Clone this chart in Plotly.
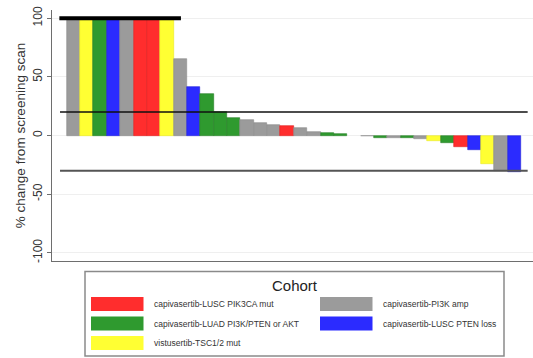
import plotly.graph_objects as go

# ---- data ----
cohort_names = [
    "capivasertib-LUSC PIK3CA mut",
    "capivasertib-PI3K amp",
    "capivasertib-LUAD PI3K/PTEN or AKT",
    "capivasertib-LUSC PTEN loss",
    "vistusertib-TSC1/2 mut",
]
cohort_colors = ["#ff2d2d", "#9b9b9b", "#2f9a2f", "#2b2bff", "#ffff33"]
cohort_edges = ["#e01e1e", "#8c8c8c", "#267f26", "#2020d8", "#e8e820"]

# cohort index of each patient (bar), in plotted order
patient_cohort = [1, 4, 2, 3, 1, 0, 0, 4, 1, 3, 2, 2, 2, 1, 1, 1, 0, 1, 1, 2, 2, 1,
                  1, 2, 1, 2, 1, 4, 2, 0, 3, 4, 1, 3]
pct_change = [100, 100, 100, 100, 100, 100, 100, 100, 65, 41.5, 35.7, 20.3, 14.9,
              13.6, 10.9, 9.0, 8.1, 6.7, 3.0, 1.9, 1.0, 0.0,
              -0.7, -1.8, -1.8, -1.8, -2.7, -4.4, -6.1, -10.0, -12.1, -24.3, -30.0, -31.1]
patients = list(range(1, len(pct_change) + 1))

ref_upper = 20
ref_lower = -30
cap_value = 100
n_capped = sum(1 for v in pct_change if v >= cap_value)

y_ticks = [-100, -50, 0, 50, 100]

FONT = "Liberation Sans, Arial, sans-serif"
W, H = 533, 358
L, R, T, B = 52, 0, 10, 97

fig = go.Figure()
fig.add_trace(go.Bar(
    x=patients,
    y=pct_change,
    marker=dict(color=[cohort_colors[c] for c in patient_cohort],
                line=dict(color=[cohort_edges[c] for c in patient_cohort],
                          width=[0.6 if v != 0 else 0 for v in pct_change])),
    width=1.0,
    showlegend=False,
    hoverinfo="x+y",
))

# reference lines
fig.add_shape(type="line", xref="x", yref="y", x0=0, x1=len(patients) + 1,
              y0=ref_upper, y1=ref_upper, line=dict(color="#111111", width=1.5))
fig.add_shape(type="line", xref="x", yref="y", x0=0, x1=len(patients) + 1,
              y0=ref_lower, y1=ref_lower, line=dict(color="#555555", width=2))
fig.add_shape(type="line", xref="x", yref="y", x0=-0.05, x1=n_capped + 1.05,
              y0=cap_value, y1=cap_value, line=dict(color="#000000", width=4))

# ---- manual legend (pixel helpers) ----
pw, ph = W - L - R, H - T - B
def px(x):
    return (x - L) / pw
def py(y):
    return (H - B - y) / ph

fig.add_shape(type="rect", xref="paper", yref="paper",
              x0=px(85), x1=px(504), y0=py(356), y1=py(271.5),
              line=dict(color="#8a8a8a", width=1.5), fillcolor="white", layer="above")
fig.add_annotation(xref="paper", yref="paper", x=px(294.5), y=py(285),
                   text="Cohort", showarrow=False, xanchor="center", yanchor="middle",
                   font=dict(family=FONT, size=15, color="#222222"))

# layout of legend entries: (col, row) for each cohort in cohort_names order
legend_pos = [(0, 0), (1, 0), (0, 1), (1, 1), (0, 2)]
col_x = [91, 320]
row_y = [297, 316.5, 336]
for i, name in enumerate(cohort_names):
    c, r = legend_pos[i]
    x0 = col_x[c]
    y0 = row_y[r]
    fig.add_shape(type="rect", xref="paper", yref="paper",
                  x0=px(x0), x1=px(x0 + 52.5), y0=py(y0 + 14), y1=py(y0),
                  line=dict(width=0), fillcolor=cohort_colors[i], layer="above")
    fig.add_annotation(xref="paper", yref="paper", x=px(x0 + 60.5), y=py(y0 + 7),
                       text=name, showarrow=False, xanchor="left", yanchor="middle",
                       font=dict(family=FONT, size=8.5, color="#333333"))

fig.update_layout(
    width=W, height=H,
    margin=dict(l=L, r=R, t=T, b=B, pad=0),
    paper_bgcolor="white", plot_bgcolor="white",
    bargap=0,
    font=dict(family=FONT, color="#333333"),
    xaxis=dict(range=[-0.6, len(patients) + 1.4], showline=True, linecolor="#6e6e6e",
               linewidth=1.3, showticklabels=False, ticks="", showgrid=False,
               zeroline=False, fixedrange=True),
    yaxis=dict(range=[-107, 107], tickvals=y_ticks, ticktext=[str(v) for v in y_ticks],
               tickangle=-90, ticks="outside", ticklen=4, tickcolor="#6e6e6e",
               showline=True, linecolor="#6e6e6e", linewidth=1.3,
               showgrid=True, gridcolor="#efefef", gridwidth=1, zeroline=False,
               tickfont=dict(family=FONT, size=12, color="#333333"),
               title=dict(text="% change from screening scan", standoff=2,
                          font=dict(family=FONT, size=13.5, color="#333333"))),
)

fig.write_html("out.html")
